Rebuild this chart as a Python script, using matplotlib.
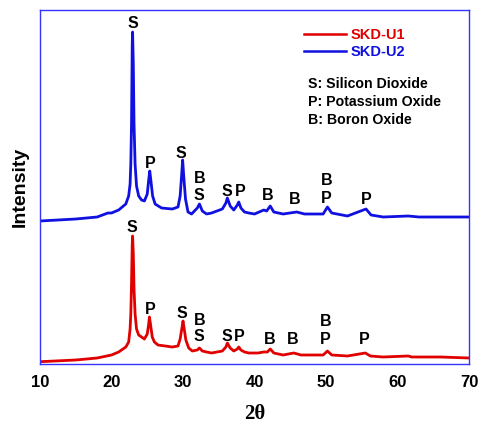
import matplotlib
matplotlib.use('Agg')
import matplotlib.pyplot as plt
from matplotlib.lines import Line2D

# SKD-U1 (red), 2theta vs intensity (a.u.)
tt_u1 = [10, 15, 18, 20, 21, 22, 22.4, 22.6, 22.7, 22.8, 22.9, 22.95, 23.05, 23.15, 23.3, 23.5,
         23.8, 24.2, 24.6, 25.0, 25.2, 25.3, 25.45, 25.7, 26.0, 26.5, 27.5, 28.5, 29.3, 29.6,
         29.85, 30.0, 30.15, 30.4, 30.8, 31.3, 32.0, 32.3, 32.7, 33.3, 34, 35.5, 36.0, 36.2,
         36.6, 37.1, 37.6, 37.8, 38.1, 38.6, 39.2, 40.5, 41.3, 41.8, 42.2, 42.7, 44, 45.5,
         46.5, 48, 49.6, 50.2, 50.8, 53, 55.5, 56.2, 58, 61.5, 62, 66, 70]
int_u1 = [2.3, 4, 6, 9, 12, 17, 22, 35, 50, 80, 120, 128, 110, 75, 50, 35,
          29, 27, 25, 30, 40, 47, 40, 27, 22, 19, 18, 17, 18, 25,
          36, 43, 36, 24, 16, 13, 14, 16, 13, 12, 11, 13, 17, 21,
          16, 13, 15, 17, 14, 12, 11, 11, 12, 12, 15, 11, 9, 11,
          9, 9, 9, 13, 9, 8, 11, 8, 7, 8, 7, 7, 6]

# SKD-U2 (blue), already stacked above U1
tt_u2 = [10, 15, 18, 19.5, 20, 21, 22, 22.4, 22.6, 22.7, 22.8, 22.9, 22.95, 23.05, 23.15,
         23.3, 23.5, 23.8, 24.2, 24.6, 25.0, 25.2, 25.35, 25.5, 25.75, 26.1, 27, 28.5, 29.3,
         29.6, 29.8, 29.95, 30.1, 30.35, 30.7, 31.2, 32.0, 32.3, 32.7, 33.3, 34, 35.5, 36.0,
         36.2, 36.6, 37.1, 37.6, 37.8, 38.1, 38.6, 39.2, 40, 41.3, 41.7, 42.2, 42.7, 44,
         45.9, 47, 49.6, 50.2, 50.8, 53, 55.6, 56.3, 58, 61.5, 63, 66, 70]
int_u2 = [143, 145, 147, 151, 151, 154, 160, 168, 180, 200, 240, 320, 332, 300, 240,
          200, 178, 168, 164, 163, 170, 184, 193, 184, 168, 160, 156, 155, 157,
          168, 188, 204, 188, 165, 152, 150, 156, 160, 153, 150, 151, 155, 161,
          166, 158, 154, 159, 162, 156, 152, 151, 150, 154, 153, 158, 152, 150,
          152, 150, 150, 157, 151, 148, 155, 149, 147, 148, 147, 147, 147]

# peak labels: (2theta, height, letter)
labels_u1 = [(22.82, 136.7, 'S'), (25.38, 55, 'P'), (29.9, 50.7, 'S'), (32.28, 43.3, 'B'),
             (32.24, 27.3, 'S'), (36.1, 27.3, 'S'), (37.83, 27.3, 'P'), (42.07, 24.7, 'B'),
             (45.29, 24, 'B'), (49.96, 42.3, 'B'), (49.96, 24, 'P'), (55.36, 24, 'P')]
labels_u2 = [(22.96, 340, 'S'), (25.48, 200.7, 'P'), (29.72, 210.7, 'S'), (32.28, 185.7, 'B'),
             (32.28, 168, 'S'), (36.1, 173, 'S'), (38.07, 172.3, 'P'), (41.8, 168, 'B'),
             (45.57, 164, 'B'), (50.1, 183.3, 'B'), (50.1, 165.7, 'P'), (55.69, 164, 'P')]

key_lines = ['S: Silicon Dioxide', 'P: Potassium Oxide', 'B: Boron Oxide']

red = '#e00000'
blue = '#1010e0'
frame = '#3333ff'

plt.rcParams['font.family'] = ['Liberation Sans', 'DejaVu Sans']

fig = plt.figure(figsize=(4.78, 4.25), dpi=100)
ax = fig.add_axes([40/478, 61/425, 429/478, 354/425])

ax.plot(tt_u1, int_u1, color=red, lw=2)
ax.plot(tt_u2, int_u2, color=blue, lw=2)

for x, y, s in labels_u1 + labels_u2:
    ax.text(x, y, s, ha='center', va='center', fontsize=11.5, fontweight='bold')

ax.set_xlim(10, 70)
ax.set_ylim(0, 354)
ax.set_yticks([])
ax.set_xticks([10, 20, 30, 40, 50, 60, 70])
ax.tick_params(axis='x', length=0, pad=8, labelsize=12)
for lab in ax.get_xticklabels():
    lab.set_fontweight('bold')
for sp in ax.spines.values():
    sp.set_color(frame)
    sp.set_linewidth(1.0)

ax.set_ylabel('Intensity', fontsize=14, fontweight='bold', labelpad=8)
ax.set_xlabel('2\u03b8', fontsize=15, fontweight='bold', family='Liberation Serif', labelpad=10)

legend_elements = [Line2D([0], [0], color=red, lw=1.8, label='SKD-U1'),
                   Line2D([0], [0], color=blue, lw=1.8, label='SKD-U2')]
leg = ax.legend(handles=legend_elements, loc='upper left', bbox_to_anchor=(0.585, 0.985),
                frameon=False, handlelength=2.9, handletextpad=0.3, labelspacing=0.2,
                prop={'weight': 'bold', 'size': 10.5})
for t, c in zip(leg.get_texts(), [red, blue]):
    t.set_color(c)

for i, s in enumerate(key_lines):
    ax.text(0.624, 0.79 - i * 0.05, s, transform=ax.transAxes, ha='left', va='center',
            fontsize=10.2, fontweight='bold')

fig.savefig('out.png', dpi=100)
